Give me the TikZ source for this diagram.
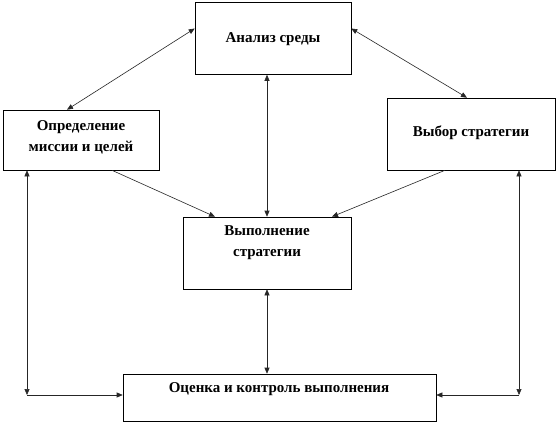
\documentclass[tikz,border=0pt]{standalone}
\usepackage{fontspec}
\setmainfont{Liberation Serif}
\usetikzlibrary{arrows.meta,calc}
\begin{document}
\begin{tikzpicture}[x=1pt,y=-1pt,
  box/.style={draw=black,line width=0.6pt,fill=white,inner sep=0pt,minimum width=#1},
  txt/.style={font=\bfseries\fontsize{15}{21}\selectfont,align=center,inner sep=0pt},
  conn/.style={draw=black!85,line width=0.6pt},
  tip/.style={-{Triangle[length=6pt,width=5pt]}},
  tips/.style={{Triangle[length=6pt,width=5pt]}-{Triangle[length=6pt,width=5pt]}}]
\useasboundingbox[fill=white] (0,0) rectangle (558,424);
% boxes
\node[box=156pt,minimum height=72pt] (A) at (273,38.5) {};
\node[box=156pt,minimum height=60pt] (O) at (81,140) {};
\node[box=168pt,minimum height=72pt] (V) at (471,134) {};
\node[box=168pt,minimum height=72pt] (E) at (267,253) {};
\node[box=313pt,minimum height=47pt] (C) at (279.5,397.5) {};
% texts
\node[txt] (At) at (273,39) {Анализ среды};
\node[txt] (Ot) at (81,137) {Определение\\миссии и целей};
\node[txt] (Vt) at (471,133) {Выбор стратегии};
\node[txt] (Et) at (267,243) {Выполнение\\стратегии};
\node[txt] (Ct) at (279,389) {Оценка и контроль выполнения};
% corner points
\coordinate (cl) at (27,395);
\coordinate (cr) at (519,395);
% connectors
\draw[conn,tips] ([yshift=10pt]A.west) -- ([xshift=-14pt]O.north);
\draw[conn,tips] ([yshift=10pt]A.east) -- ([xshift=-4pt]V.north);
\draw[conn,tips] (A.south -| E.north) -- (E.north);
\draw[conn,tip] ([xshift=31pt]O.south) -- ([xshift=-52pt]E.north);
\draw[conn,tip] ([xshift=-26pt]V.south) -- ([xshift=65pt]E.north);
\draw[conn,tips] (E.south) -- (C.north -| E.south);
\draw[conn,tips] ([xshift=-54pt]O.south) -- (cl);
\draw[conn,tip] (cl) -- (cl -| C.west);
\draw[conn,tips] ([xshift=48pt]V.south) -- (cr);
\draw[conn,tip] (cr) -- (cr -| C.east);
\end{tikzpicture}
\end{document}
